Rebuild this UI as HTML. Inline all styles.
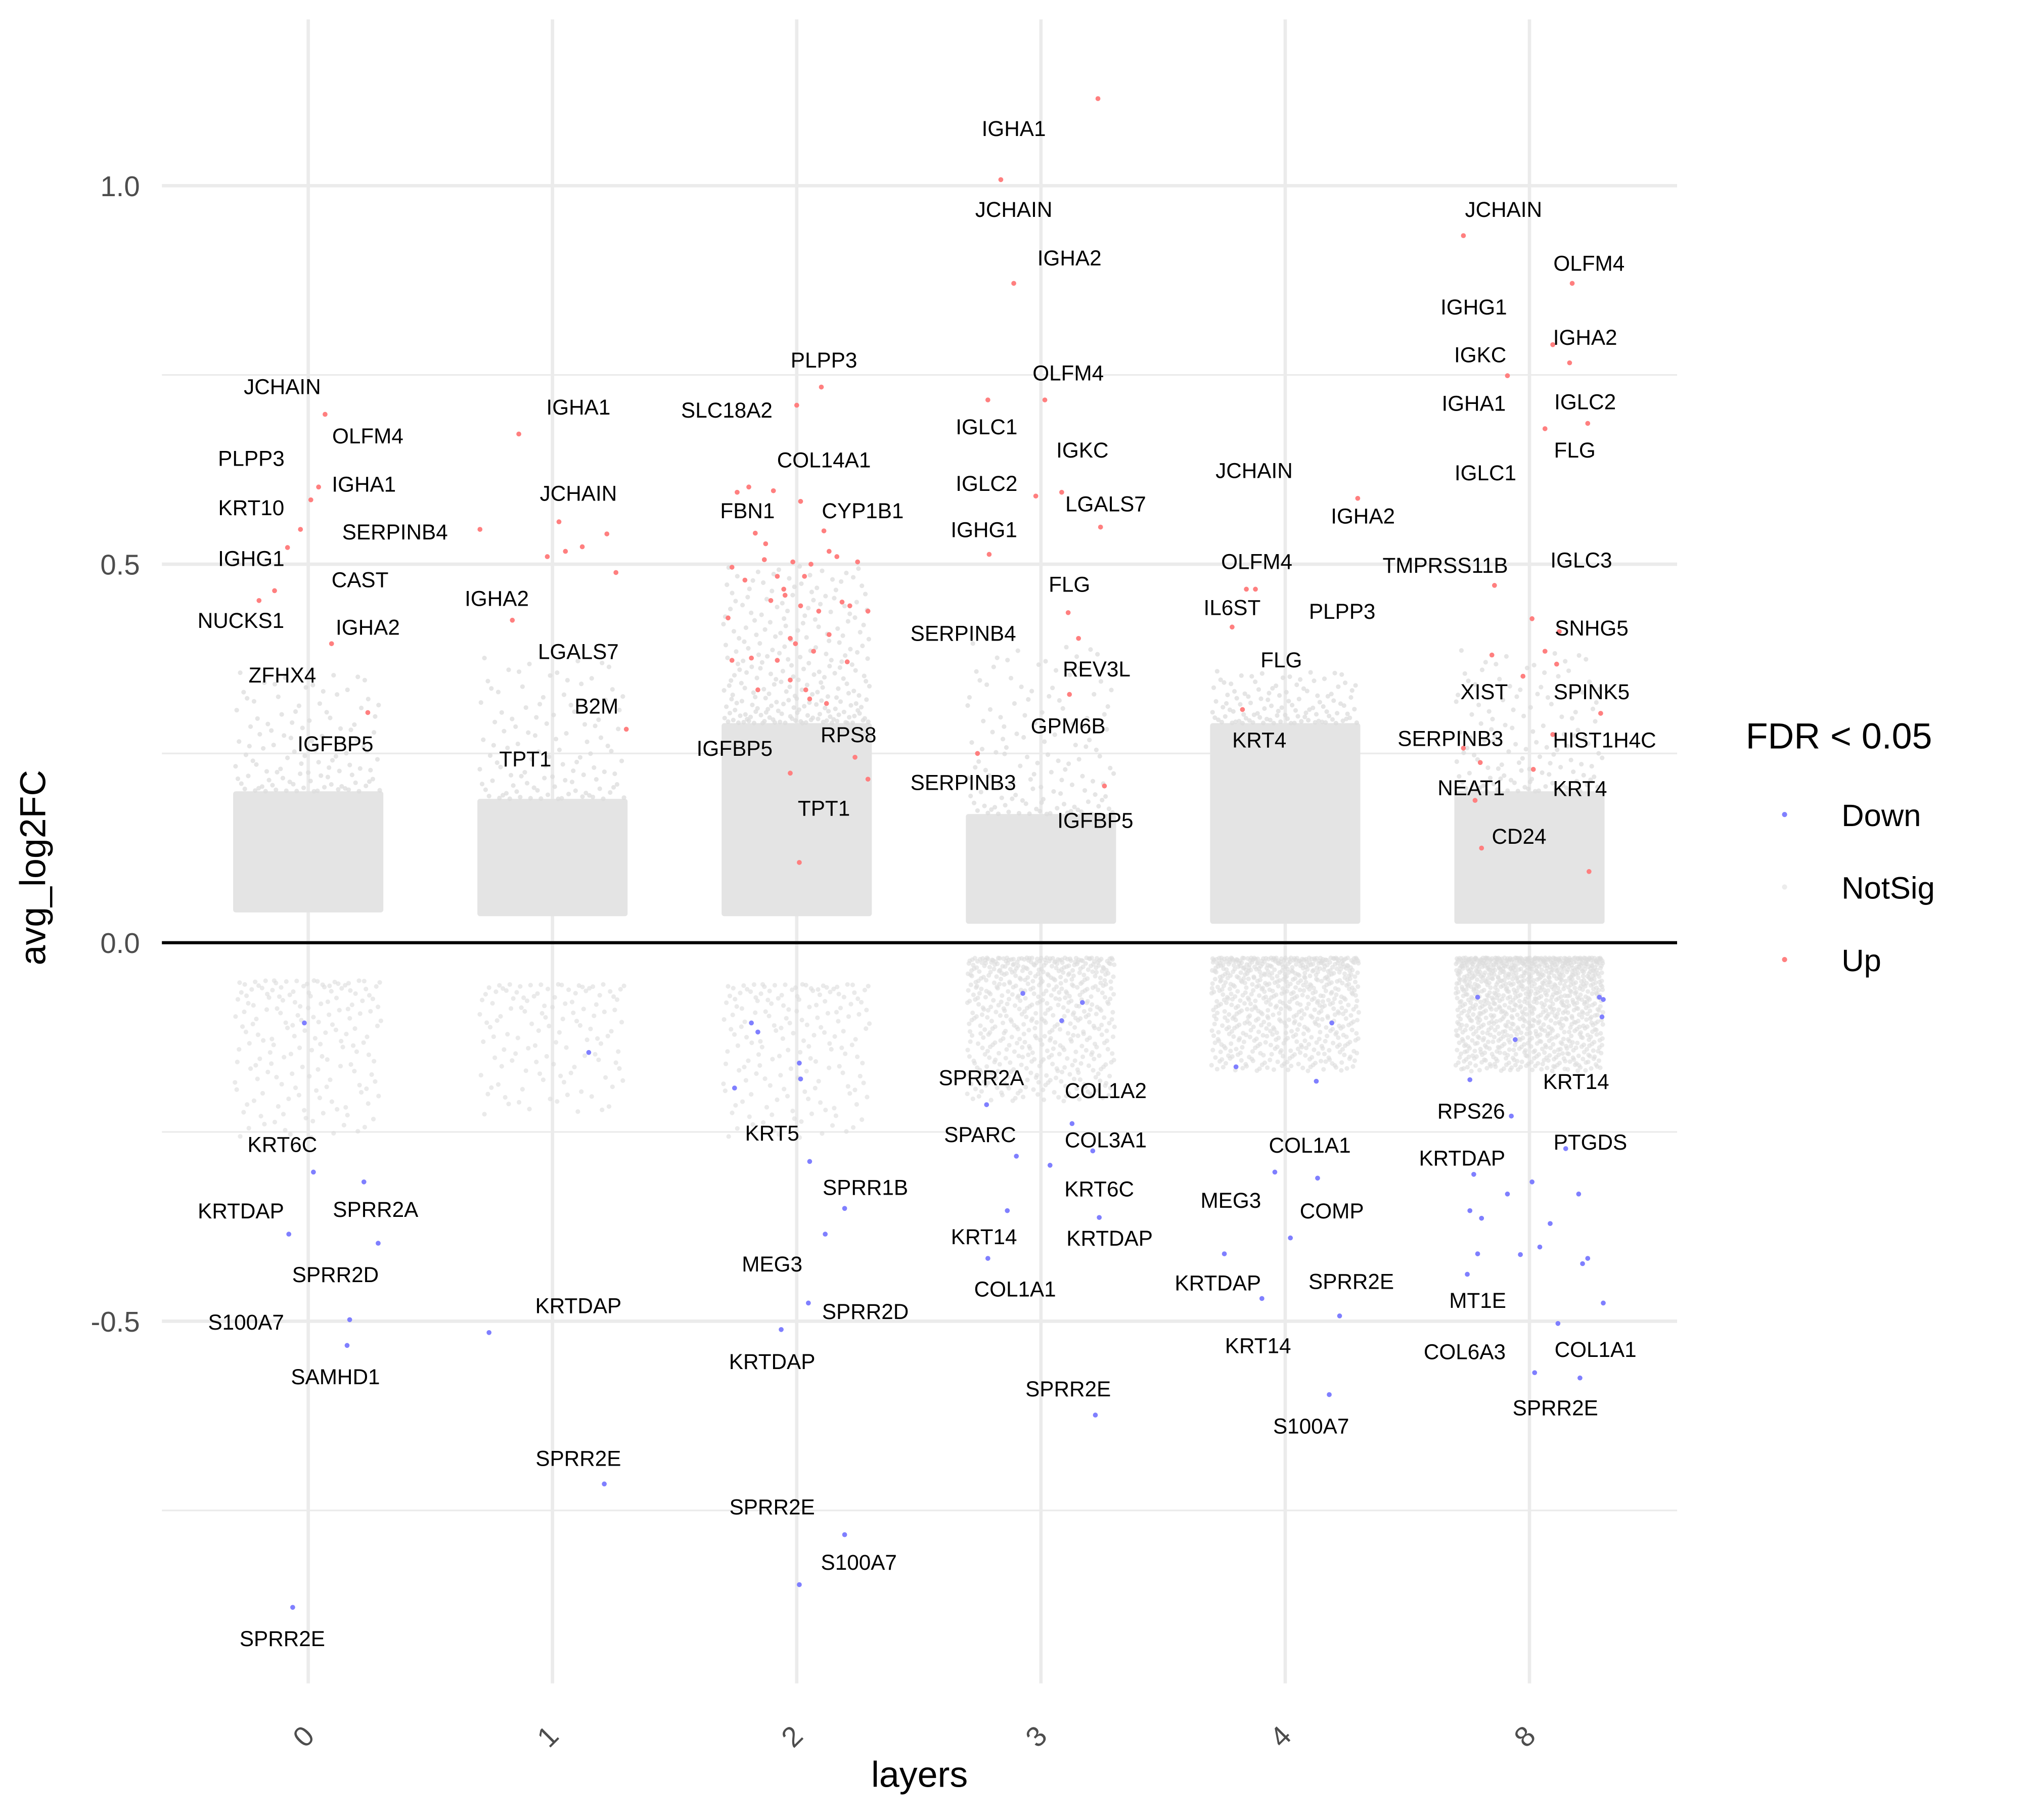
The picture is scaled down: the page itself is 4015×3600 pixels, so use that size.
<!DOCTYPE html>
<html><head><meta charset="utf-8"><style>
html,body{margin:0;padding:0;background:#fff}
svg{display:block}
text{font-family:"Liberation Sans",Arial,sans-serif}
</style></head><body>
<svg id="chart" xmlns="http://www.w3.org/2000/svg" width="4015" height="3600" viewBox="0 0 1567.5 1405.5">
<rect width="1567.5" height="1405.5" fill="#fff"/>
<g id="grid"></g>
<g id="clouds"></g>
<line x1="125" x2="1295" y1="728" y2="728" stroke="#000" stroke-width="2.4"/>
<g id="pts"></g>
<g id="labs" font-size="16.5" fill="#000" text-anchor="middle"></g>
<g id="axes"></g>
<text x="35" y="670" font-size="28" text-anchor="middle" transform="rotate(-90 35 670)">avg_log2FC</text>
<text x="710" y="1380" font-size="28" text-anchor="middle">layers</text>
<g>
<text x="1348" y="578" font-size="28">FDR &lt; 0.05</text>
<circle cx="1378" cy="629" r="2" fill="#8080ff"/>
<text x="1422" y="638" font-size="24">Down</text>
<circle cx="1378" cy="685" r="2" fill="#ececec"/>
<text x="1422" y="694" font-size="24">NotSig</text>
<circle cx="1378" cy="741" r="2" fill="#ff8080"/>
<text x="1422" y="750" font-size="24">Up</text>
</g>
</svg>
<script>
const categories = ["0","1","2","3","4","8"];
const yTicks = [1.0, 0.5, 0.0, -0.5];
const yTickLabels = ["1.0","0.5","0.0","-0.5"];
const yMinor = [0.75, 0.25, -0.25, -0.75];
const upPoints = [
[0,13,0.698],[0,2,0.585],[0,-6,0.546],[0,-16,0.522],[0,-26,0.465],[0,-38,0.452],[0,18,0.395],[0,46,0.304],[0,8,0.602],
[1,-26,0.672],[1,-56,0.546],[1,5,0.556],[1,-4,0.51],[1,10,0.517],[1,23,0.523],[1,42,0.54],[1,49,0.489],[1,-31,0.426],[1,57,0.282],
[2,0,0.71],[2,19,0.734],[2,-46,0.595],[2,-37,0.602],[2,-18,0.597],[2,-32,0.541],[2,21,0.544],[2,25,0.517],[2,31,0.51],[2,47,0.503],[2,-50,0.496],[2,-25,0.506],[2,-3,0.503],[2,11,0.5],[2,-40,0.479],[2,-15,0.484],[2,6,0.484],[2,-10,0.467],[2,35,0.45],[2,55,0.438],[2,-53,0.429],[2,-20,0.452],[2,3,0.445],[2,17,0.438],[2,41,0.445],[2,-5,0.402],[2,-1,0.395],[2,13,0.385],[2,25,0.407],[2,-50,0.373],[2,-35,0.376],[2,-15,0.373],[2,39,0.371],[2,-5,0.347],[2,-30,0.334],[2,7,0.334],[2,23,0.316],[2,10,0.322],[2,45,0.245],[2,-5,0.224],[2,55,0.216],[2,2,0.106],[2,3,0.583],[2,-9,0.459],[2,-24,0.527],
[3,44,1.115],[3,-31,1.008],[3,-21,0.871],[3,-41,0.717],[3,3,0.717],[3,-4,0.59],[3,16,0.595],[3,46,0.549],[3,-40,0.513],[3,21,0.436],[3,29,0.402],[3,22,0.328],[3,-49,0.25],[3,49,0.207],
[4,56,0.587],[4,-30,0.467],[4,-23,0.467],[4,-41,0.417],[4,-33,0.308],
[5,-51,0.934],[5,33,0.871],[5,18,0.79],[5,31,0.766],[5,-17,0.749],[5,12,0.679],[5,45,0.686],[5,2,0.428],[5,-27,0.472],[5,23,0.411],[5,12,0.385],[5,21,0.368],[5,-29,0.38],[5,-5,0.352],[5,55,0.303],[5,-51,0.257],[5,-38,0.238],[5,18,0.275],[5,3,0.229],[5,-42,0.188],[5,-37,0.125],[5,46,0.094]
];
const downPoints = [
[0,-3,-0.106],[0,4,-0.303],[0,43,-0.316],[0,-15,-0.385],[0,54,-0.397],[0,32,-0.498],[0,30,-0.532],[0,-12,-0.878],
[1,28,-0.145],[1,-49,-0.515],[1,40,-0.715],
[2,-35,-0.106],[2,-30,-0.118],[2,2,-0.159],[2,3,-0.18],[2,-48,-0.192],[2,10,-0.289],[2,37,-0.351],[2,22,-0.385],[2,9,-0.476],[2,-12,-0.511],[2,37,-0.782],[2,2,-0.848],
[3,-14,-0.067],[3,32,-0.079],[3,16,-0.103],[3,-42,-0.214],[3,24,-0.239],[3,-19,-0.282],[3,40,-0.275],[3,7,-0.294],[3,-26,-0.354],[3,45,-0.363],[3,-41,-0.417],[3,42,-0.624],
[4,36,-0.106],[4,-38,-0.164],[4,24,-0.183],[4,-8,-0.303],[4,25,-0.311],[4,4,-0.39],[4,-47,-0.411],[4,-18,-0.47],[4,42,-0.493],[4,34,-0.597],
[5,-40,-0.072],[5,54,-0.072],[5,57,-0.075],[5,56,-0.098],[5,-11,-0.128],[5,-46,-0.181],[5,-14,-0.229],[5,28,-0.272],[5,-43,-0.306],[5,2,-0.316],[5,38,-0.332],[5,-17,-0.332],[5,-46,-0.354],[5,-37,-0.364],[5,16,-0.371],[5,8,-0.402],[5,-40,-0.411],[5,-7,-0.412],[5,45,-0.417],[5,41,-0.424],[5,-48,-0.438],[5,57,-0.476],[5,22,-0.503],[5,4,-0.568],[5,39,-0.575]
];
// NotSig cloud extents per layer (value units) and point counts
const upDenseTop = [0.20,0.19,0.29,0.17,0.29,0.20];
const upSparseTop = [0.36,0.38,0.50,0.40,0.36,0.39];
const upBottom = [0.04,0.035,0.035,0.025,0.025,0.025];
const upSparseCount = [110,110,240,130,110,130];
const downTop = [-0.05,-0.055,-0.055,-0.02,-0.02,-0.02];
const downBottom = [-0.26,-0.23,-0.26,-0.21,-0.17,-0.17];
const downCount = [170,120,170,550,650,1000];
const labels = [
["JCHAIN",0,-20,0.735],["OLFM4",0,46,0.670],["PLPP3",0,-44,0.640],["IGHA1",0,43,0.606],["KRT10",0,-44,0.575],["SERPINB4",0,67,0.543],["IGHG1",0,-44,0.508],["CAST",0,40,0.480],["NUCKS1",0,-52,0.426],["IGHA2",0,46,0.417],["ZFHX4",0,-20,0.354],["IGFBP5",0,21,0.263],["KRT6C",0,-20,-0.266],["KRTDAP",0,-52,-0.354],["SPRR2A",0,52,-0.352],["SPRR2D",0,21,-0.438],["S100A7",0,-48,-0.501],["SAMHD1",0,21,-0.573],["SPRR2E",0,-20,-0.919],
["IGHA1",1,20,0.708],["JCHAIN",1,20,0.594],["IGHA2",1,-43,0.455],["LGALS7",1,20,0.385],["B2M",1,34,0.313],["TPT1",1,-21,0.243],["KRTDAP",1,20,-0.479],["SPRR2E",1,20,-0.681],
["PLPP3",2,21,0.770],["SLC18A2",2,-54,0.704],["COL14A1",2,21,0.638],["FBN1",2,-38,0.571],["CYP1B1",2,51,0.571],["IGFBP5",2,-48,0.257],["RPS8",2,40,0.275],["TPT1",2,21,0.178],["KRT5",2,-19,-0.251],["SPRR1B",2,53,-0.323],["MEG3",2,-19,-0.424],["SPRR2D",2,53,-0.487],["KRTDAP",2,-19,-0.553],["SPRR2E",2,-19,-0.745],["S100A7",2,48,-0.818],
["IGHA1",3,-21,1.076],["JCHAIN",3,-21,0.969],["IGHA2",3,22,0.905],["OLFM4",3,21,0.753],["IGLC1",3,-42,0.682],["IGKC",3,32,0.651],["IGLC2",3,-42,0.607],["LGALS7",3,50,0.580],["IGHG1",3,-44,0.546],["FLG",3,22,0.474],["SERPINB4",3,-60,0.409],["REV3L",3,43,0.362],["GPM6B",3,21,0.287],["SERPINB3",3,-60,0.212],["IGFBP5",3,42,0.162],["SPRR2A",3,-46,-0.178],["COL1A2",3,50,-0.195],["SPARC",3,-47,-0.253],["COL3A1",3,50,-0.260],["KRT6C",3,45,-0.325],["KRT14",3,-44,-0.388],["KRTDAP",3,53,-0.390],["COL1A1",3,-20,-0.457],["SPRR2E",3,21,-0.589],
["JCHAIN",4,-24,0.624],["IGHA2",4,60,0.564],["OLFM4",4,-22,0.504],["IL6ST",4,-41,0.443],["PLPP3",4,44,0.438],["FLG",4,-3,0.374],["KRT4",4,-20,0.268],["COL1A1",4,19,-0.267],["MEG3",4,-42,-0.340],["COMP",4,36,-0.354],["KRTDAP",4,-52,-0.449],["SPRR2E",4,51,-0.447],["KRT14",4,-21,-0.532],["S100A7",4,20,-0.638],
["JCHAIN",5,-20,0.969],["OLFM4",5,46,0.898],["IGHG1",5,-43,0.840],["IGHA2",5,43,0.800],["IGKC",5,-38,0.777],["IGHA1",5,-43,0.713],["IGLC2",5,43,0.715],["FLG",5,35,0.651],["IGLC1",5,-34,0.621],["TMPRSS11B",5,-65,0.499],["IGLC3",5,40,0.506],["SNHG5",5,48,0.416],["XIST",5,-35,0.332],["SPINK5",5,48,0.332],["SERPINB3",5,-61,0.270],["HIST1H4C",5,58,0.268],["NEAT1",5,-45,0.205],["KRT4",5,39,0.204],["CD24",5,-8,0.141],["KRT14",5,36,-0.183],["RPS26",5,-45,-0.222],["PTGDS",5,47,-0.263],["KRTDAP",5,-52,-0.284],["MT1E",5,-40,-0.472],["COL6A3",5,-50,-0.540],["COL1A1",5,51,-0.537],["SPRR2E",5,20,-0.614]
];

const NS = "http://www.w3.org/2000/svg";
const xPos = i => 238 + i * 188.6;
const yPos = v => 728 - v * 584.6;
function mk(tag, attrs, parent){const e=document.createElementNS(NS,tag);for(const k in attrs)e.setAttribute(k,attrs[k]);parent.appendChild(e);return e;}
function halton(i,b){let f=1,r=0;while(i>0){f/=b;r+=f*(i%b);i=Math.floor(i/b);}return r;}
const grid=document.getElementById('grid'), axes=document.getElementById('axes');
yMinor.forEach(v=>{const l=mk('line',{x1:125,x2:1295,y1:yPos(v),y2:yPos(v),stroke:'#ebebeb','stroke-width':1.3},grid);

});
yTicks.forEach((v,i)=>{const l=mk('line',{x1:125,x2:1295,y1:yPos(v),y2:yPos(v),stroke:'#ebebeb','stroke-width':2.6},grid);


const t=mk('text',{x:108,y:yPos(v)+8,'font-size':22,fill:'#4d4d4d','text-anchor':'end'},axes);t.textContent=yTickLabels[i];

});
categories.forEach((c,i)=>{const x=xPos(i);const l=mk('line',{x1:x,x2:x,y1:15,y2:1300,stroke:'#ebebeb','stroke-width':2.6},grid);


const t=mk('text',{x:x+6,y:1342,'font-size':22,fill:'#4d4d4d','text-anchor':'end',transform:`rotate(-45 ${x+6} 1342)`},axes);t.textContent=c;

});
const clouds=document.getElementById('clouds');
categories.forEach((c,i)=>{const x0=xPos(i)-57;
const d=mk('rect',{x:x0-1,width:116,y:yPos(upDenseTop[i]),height:yPos(upBottom[i])-yPos(upDenseTop[i]),fill:'#e4e4e4',rx:2},clouds);


const ysTop=yPos(upSparseTop[i]), ysBot=yPos(upDenseTop[i]);
for(let k=1;k<=upSparseCount[i];k++){
  const u=halton(k,2), w=Math.pow(halton(k,3),1.7);
  const e=mk('circle',{cx:x0+u*114,cy:ysBot-w*(ysBot-ysTop),r:1.8,fill:'#dcdcdc','fill-opacity':0.75},clouds);
  
  
}
const ydTop=yPos(downTop[i]), ydBot=yPos(downBottom[i]);
for(let k=1;k<=downCount[i];k++){
  const u=halton(k,2), w=Math.pow(halton(k,3),1.6);
  const e=mk('circle',{cx:x0+u*114,cy:ydTop+w*(ydBot-ydTop),r:1.8,fill:'#dcdcdc','fill-opacity':0.6},clouds);
  
  
}});
const pts=document.getElementById('pts');
upPoints.forEach(p=>{const e=mk('circle',{cx:xPos(p[0])+p[1],cy:yPos(p[2]),r:1.9,fill:'#ff7f7f'},pts);

});
downPoints.forEach(p=>{const e=mk('circle',{cx:xPos(p[0])+p[1],cy:yPos(p[2]),r:1.9,fill:'#7f7fff'},pts);

});
const labs=document.getElementById('labs');
labels.forEach(l=>{const t=mk('text',{x:xPos(l[1])+l[2],y:yPos(l[3])+6},labs);t.textContent=l[0];

});
</script>
</body></html>
